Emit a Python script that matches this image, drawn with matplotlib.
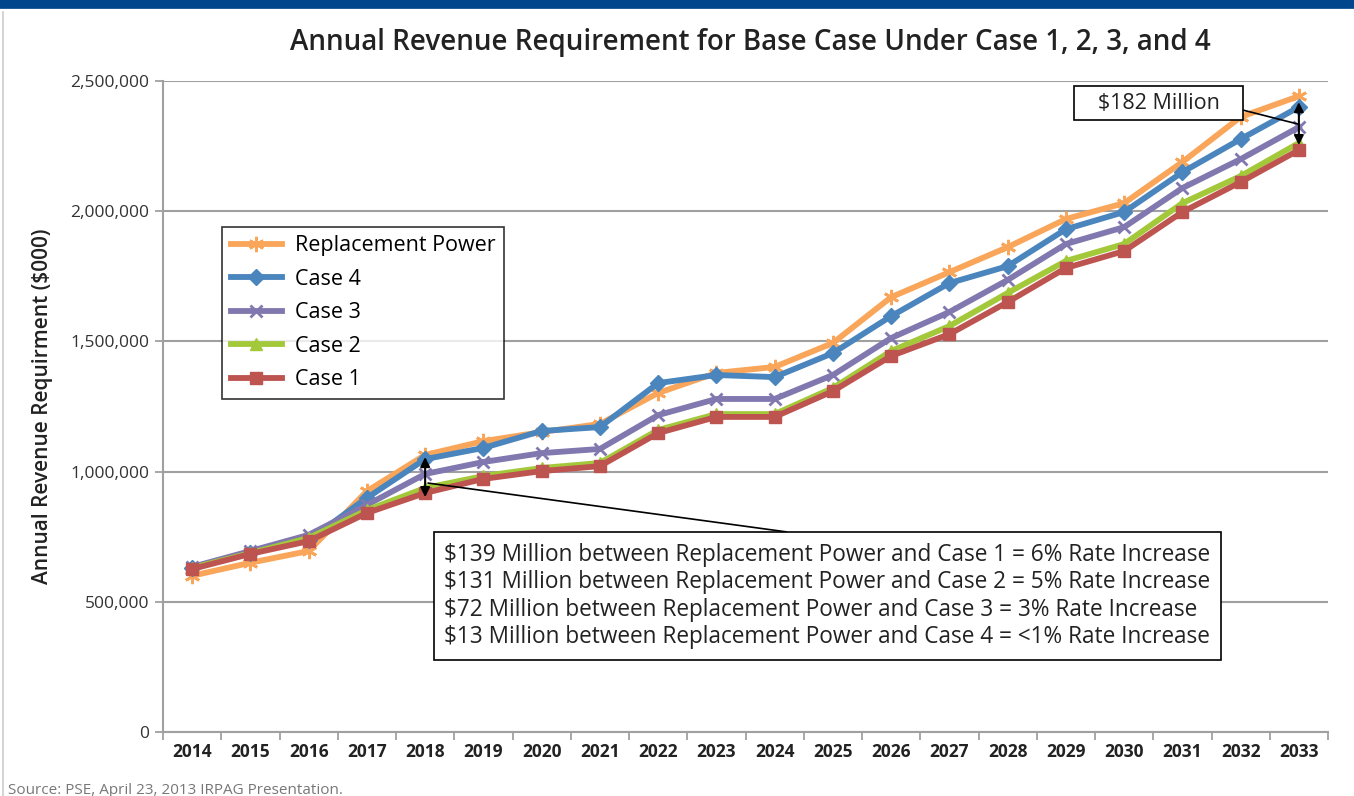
import matplotlib.pyplot as plt
from matplotlib.lines import Line2D

plt.rcParams['font.family'] = ['Open Sans', 'DejaVu Sans']

anos = [str(a) for a in range(2014, 2034)]

# valores em $000
reposicao = [600000, 650000, 695000, 925000, 1064000, 1117000, 1152000, 1183000, 1302000, 1379000,
             1402000, 1494000, 1670000, 1766000, 1862000, 1970000, 2031000, 2189000, 2362000, 2442000]
caso4 = [630000, 687000, 737000, 899000, 1048000, 1091000, 1156000, 1171000, 1340000, 1371000,
         1363000, 1455000, 1597000, 1724000, 1789000, 1931000, 1997000, 2150000, 2277000, 2400000]
caso3 = [634000, 695000, 757000, 872000, 991000, 1037000, 1071000, 1087000, 1217000, 1279000,
         1279000, 1371000, 1513000, 1613000, 1736000, 1874000, 1939000, 2089000, 2200000, 2323000]
caso2 = [630000, 687000, 745000, 852000, 937000, 983000, 1014000, 1033000, 1160000, 1221000,
         1221000, 1321000, 1463000, 1559000, 1686000, 1809000, 1874000, 2031000, 2135000, 2262000]
caso1 = [626000, 684000, 733000, 841000, 918000, 972000, 1002000, 1021000, 1148000, 1210000,
         1210000, 1309000, 1444000, 1528000, 1651000, 1782000, 1847000, 1997000, 2112000, 2235000]

series = [
    ('Replacement Power', reposicao, '#F9A65A', (6, 2, 0), 11),
    ('Case 4', caso4, '#4A85BD', 'D', 8),
    ('Case 3', caso3, '#8078AE', 'x', 9),
    ('Case 2', caso2, '#A3C93A', '^', 9),
    ('Case 1', caso1, '#BE5450', 's', 9),
]

notas = [
    '$139 Million between Replacement Power and Case 1 = 6% Rate Increase',
    '$131 Million between Replacement Power and Case 2 = 5% Rate Increase',
    '$72 Million between Replacement Power and Case 3 = 3% Rate Increase',
    '$13 Million between Replacement Power and Case 4 = <1% Rate Increase',
]

fig = plt.figure(figsize=(13.54, 7.96), dpi=100)
ax = fig.add_axes([0.1204, 0.0804, 0.8604, 0.8178])

x = list(range(len(anos)))
for z, (nome, valores, cor, marc, tam) in enumerate(series):
    ax.plot(x, valores, color=cor, linewidth=4.2, marker=marc, markersize=tam,
            markeredgewidth=2 if marc in ('x', (6, 2, 0)) else 1, markeredgecolor=cor,
            label=nome, zorder=3 + z, solid_joinstyle='round')

ax.set_xlim(-0.5, len(anos) - 0.5)
ax.set_ylim(0, 2500000)
ax.set_yticks(range(0, 2500001, 500000))
ax.yaxis.set_major_formatter(plt.FuncFormatter(lambda v, p: f'{int(v):,}'))
ax.set_xticks(x)
ax.set_xticklabels(anos, fontweight='bold', fontsize=12.5, color='#222222')
ax.set_xticks([i - 0.5 for i in range(len(anos) + 1)], minor=True)
ax.tick_params(axis='x', which='major', length=0, pad=8)
ax.tick_params(axis='x', which='minor', length=6, color='#a0a0a0', width=1.3)
ax.tick_params(axis='y', length=6, color='#a0a0a0', width=1.3, labelsize=12.5,
               labelcolor='#333333', pad=4)
ax.grid(axis='y', color='#a0a0a0', linewidth=1.5)
ax.set_axisbelow(True)
for lado in ['top', 'right']:
    ax.spines[lado].set_visible(False)
for lado in ['left', 'bottom']:
    ax.spines[lado].set_color('#a0a0a0')
    ax.spines[lado].set_linewidth(1.5)

ax.set_ylabel('Annual Revenue Requirment ($000)', fontsize=15, fontweight='semibold',
              color='#222222', labelpad=12)

fig.text(0.554, 0.946, 'Annual Revenue Requirement for Base Case Under Case 1, 2, 3, and 4',
         ha='center', va='center', fontsize=20, fontweight='semibold', color='#222222')

leg = ax.legend(loc='upper left', bbox_to_anchor=(0.0506, 0.776), fontsize=15.5, frameon=True,
                fancybox=False, edgecolor='black', handlelength=2.4, labelspacing=0.58,
                borderpad=0.4, handletextpad=0.6, borderaxespad=0)
leg.get_frame().set_linewidth(1.2)

# setas de diferença
ax.annotate('', xy=(4, 1056000), xytext=(4, 902000),
            arrowprops=dict(arrowstyle='<|-|>', color='black', lw=1.5, mutation_scale=14,
                            shrinkA=0, shrinkB=0), zorder=10)
ax.annotate('', xy=(19, 2419000), xytext=(19, 2254000),
            arrowprops=dict(arrowstyle='<|-|>', color='black', lw=1.5, mutation_scale=14,
                            shrinkA=0, shrinkB=0), zorder=10)

ax.annotate('\n'.join(notas), xy=(4.05, 956000), xytext=(4.33, 522000),
            fontsize=16.3, color='#222222', linespacing=1.2, va='center', ha='left',
            bbox=dict(boxstyle='square,pad=0.45', fc='white', ec='black', lw=1.2),
            arrowprops=dict(arrowstyle='-', color='black', lw=1.2, relpos=(0.55, 1.0),
                            shrinkA=0, shrinkB=0),
            zorder=11)
ax.annotate('   $182 Million   ', xy=(18.98, 2335000), xytext=(16.59, 2415000),
            fontsize=15.5, color='#222222', va='center', ha='center',
            bbox=dict(boxstyle='square,pad=0.3', fc='white', ec='black', lw=1.2),
            arrowprops=dict(arrowstyle='-', color='black', lw=1.2, relpos=(1.0, 0.25),
                            shrinkA=0, shrinkB=0),
            zorder=11)

# faixa azul e borda
fig.add_artist(Line2D([0, 1], [0.9955, 0.9955], color='#00468C', linewidth=7,
                      transform=fig.transFigure))
fig.add_artist(Line2D([0.0025, 0.0025], [0, 0.985], color='#cccccc', linewidth=1.2,
                      transform=fig.transFigure))
fig.text(0.006, 0.016, 'Source: PSE, April 23, 2013 IRPAG Presentation.', fontsize=11,
         color='#777777', va='top')

plt.savefig('out.png', dpi=100)
